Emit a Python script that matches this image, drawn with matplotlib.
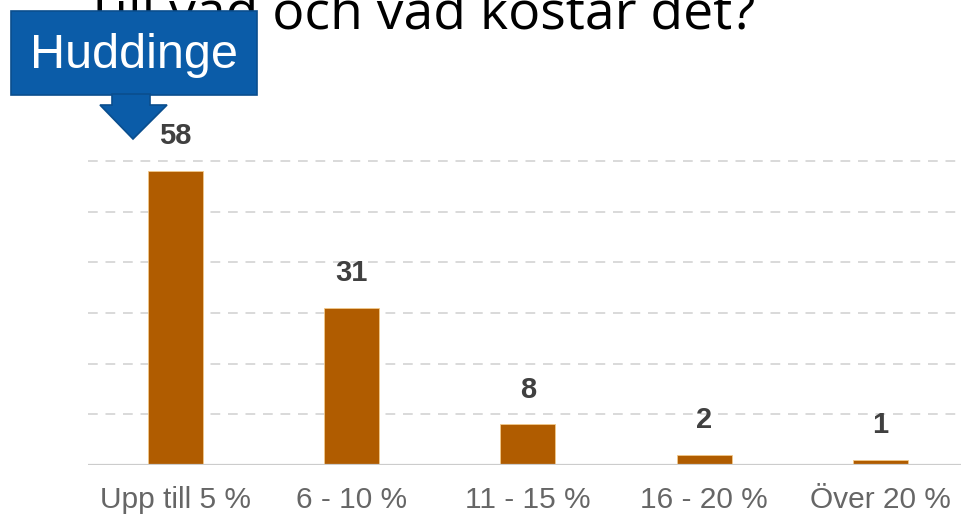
import matplotlib
matplotlib.use("Agg")
import matplotlib.pyplot as plt
from matplotlib.patches import Rectangle, Polygon

# data
categories = ["Upp till 5 %", "6 - 10 %", "11 - 15 %", "16 - 20 %", "Över 20 %"]
values = [58, 31, 8, 2, 1]
gridlines = [10, 20, 30, 40, 50, 60]
title = "Till vad och vad kostar det?"
callout = "Huddinge"

W, H = 961, 521
BAR = "#b05c00"
BLUE = "#0b5ca8"

fig = plt.figure(figsize=(W / 100, H / 100), dpi=100)
fig.patch.set_facecolor("white")


def px(x, y):
    # pixel (from top-left) -> figure fraction
    return x / W, 1 - y / H


ax = fig.add_axes([88 / W, (H - 465) / H, (W - 88) / W, 304 / H])
xs = list(range(len(categories)))
ax.bar(xs, values, width=0.312, color=BAR, edgecolor="#f2c98a", linewidth=0.6, zorder=3)

for g in gridlines:
    ax.axhline(g, color="#d9d9d9", lw=1.4, ls=(0, (5, 4)), zorder=1, clip_on=False)
ax.axhline(0, color="#cccccc", lw=1.6, zorder=4)

for x, v in zip(xs, values):
    ax.annotate(str(v), (x, v), xytext=(0, 15), textcoords="offset points",
                ha="center", va="bottom", fontsize=21, fontweight="bold",
                color="#404040", family="Liberation Sans")

ax.set_xlim(-0.4965, 4.457)
ax.set_ylim(0, 60)
ax.set_xticks(xs)
ax.set_xticklabels(categories, fontsize=21.5, color="#666666", family="Liberation Sans")
ax.tick_params(axis="x", length=0, pad=15)
ax.set_yticks([])
for s in ax.spines.values():
    s.set_visible(False)
ax.patch.set_alpha(0)

# title, clipped by the top edge like the slide crop
fig.text(*px(85, 30), title, fontsize=38.5, family="Open Sans", color="black",
         ha="left", va="baseline", zorder=2)

# blue callout box with arrow
x0, y0 = px(11, 95)
x1, y1 = px(257, 11)
fig.patches.append(Rectangle((x0, y0), x1 - x0, y1 - y0, transform=fig.transFigure,
                             facecolor=BLUE, edgecolor="#0a4e8e", lw=1.2, zorder=5))
arrow = [px(112, 94), px(150, 94), px(150, 105), px(167, 105), px(133, 139),
         px(100, 105), px(112, 105)]
fig.patches.append(Polygon(arrow, closed=True, transform=fig.transFigure,
                           facecolor=BLUE, edgecolor="#0a4e8e", lw=1.2, zorder=5))
fig.text(*px(134, 55), callout, fontsize=35, color="white", family="Liberation Sans",
         ha="center", va="center", zorder=6)

fig.savefig("out.png", dpi=100)
